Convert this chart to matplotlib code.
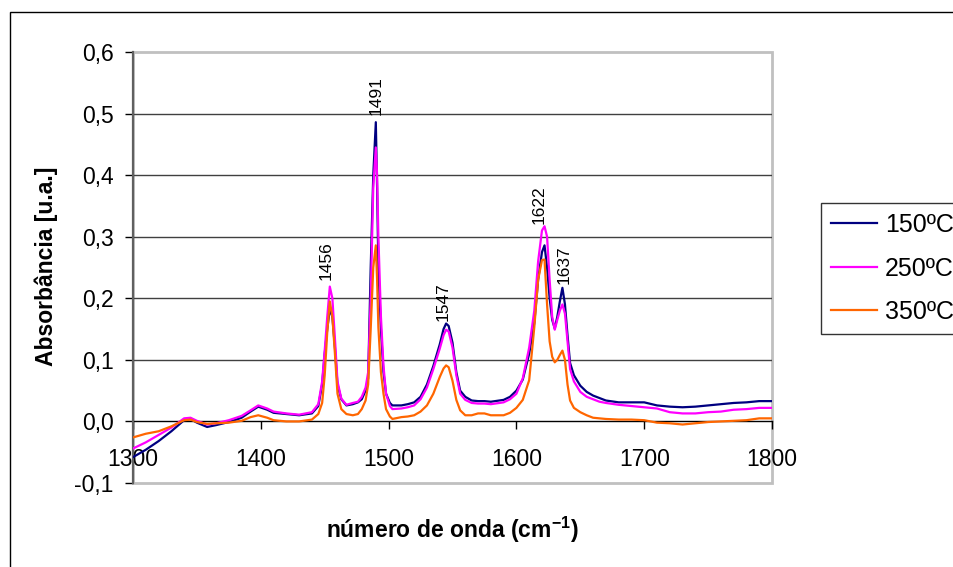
import matplotlib
matplotlib.use("Agg")
import matplotlib.pyplot as plt
from matplotlib.patches import Rectangle
from matplotlib.ticker import FuncFormatter

plt.rcParams['font.family'] = ['Liberation Sans', 'DejaVu Sans']
plt.rcParams['mathtext.fontset'] = 'custom'
plt.rcParams['mathtext.rm'] = 'Liberation Sans'
plt.rcParams['mathtext.bf'] = 'Liberation Sans:bold'

# wavenumber (cm-1) and absorbance
wavenumber = [1300, 1310, 1320, 1330, 1340, 1345, 1350, 1358, 1365, 1375,
              1385, 1392, 1398, 1405, 1410, 1420, 1430, 1440, 1445, 1448,
              1450, 1452, 1454, 1456, 1458, 1460, 1463, 1467, 1472, 1476,
              1479, 1482, 1484, 1486, 1488, 1490, 1491, 1492, 1494, 1496,
              1498, 1501, 1503, 1510, 1515, 1520, 1525, 1530, 1535, 1540,
              1543, 1545, 1547, 1550, 1553, 1556, 1560, 1565, 1570, 1575,
              1580, 1590, 1595, 1600, 1605, 1610, 1614, 1617, 1620, 1622,
              1624, 1626, 1628, 1630, 1632, 1634, 1636, 1638, 1640, 1642,
              1645, 1650, 1655, 1660, 1665, 1670, 1680, 1690, 1700, 1710,
              1720, 1730, 1740, 1750, 1760, 1770, 1780, 1790, 1800]

abs_150 = [-0.058, -0.046, -0.032, -0.016, 0.002, 0.004, -0.002, -0.009, -0.006, -0.001,
           0.006, 0.016, 0.024, 0.019, 0.014, 0.012, 0.010, 0.013, 0.025, 0.060,
           0.110, 0.150, 0.183, 0.170, 0.120, 0.060, 0.036, 0.026, 0.028, 0.031,
           0.036, 0.050, 0.070, 0.250, 0.400, 0.486, 0.380, 0.250, 0.150, 0.080,
           0.045, 0.030, 0.026, 0.026, 0.028, 0.031, 0.040, 0.060, 0.090, 0.125,
           0.150, 0.159, 0.155, 0.128, 0.080, 0.050, 0.040, 0.034, 0.033, 0.033,
           0.032, 0.035, 0.040, 0.050, 0.068, 0.110, 0.160, 0.230, 0.275, 0.286,
           0.250, 0.200, 0.165, 0.151, 0.170, 0.195, 0.217, 0.190, 0.140, 0.095,
           0.075, 0.058, 0.048, 0.042, 0.038, 0.034, 0.031, 0.031, 0.031, 0.026,
           0.024, 0.023, 0.024, 0.026, 0.028, 0.030, 0.031, 0.033, 0.033]

abs_250 = [-0.044, -0.034, -0.022, -0.010, 0.005, 0.006, 0.001, -0.005, -0.003, 0.002,
           0.009, 0.018, 0.026, 0.021, 0.016, 0.013, 0.011, 0.015, 0.028, 0.065,
           0.115, 0.170, 0.219, 0.200, 0.135, 0.065, 0.037, 0.027, 0.030, 0.032,
           0.040, 0.055, 0.080, 0.200, 0.380, 0.445, 0.400, 0.300, 0.170, 0.090,
           0.045, 0.025, 0.020, 0.021, 0.023, 0.026, 0.036, 0.055, 0.085, 0.118,
           0.140, 0.149, 0.146, 0.120, 0.075, 0.045, 0.035, 0.030, 0.029, 0.029,
           0.028, 0.031, 0.036, 0.045, 0.070, 0.120, 0.180, 0.260, 0.310, 0.317,
           0.300, 0.230, 0.170, 0.149, 0.165, 0.180, 0.190, 0.175, 0.130, 0.085,
           0.065, 0.048, 0.040, 0.036, 0.032, 0.030, 0.027, 0.025, 0.023, 0.021,
           0.015, 0.013, 0.013, 0.015, 0.016, 0.019, 0.020, 0.022, 0.022]

abs_350 = [-0.026, -0.020, -0.016, -0.008, 0.002, 0.003, -0.001, -0.004, -0.003, -0.002,
           0.001, 0.007, 0.010, 0.006, 0.002, 0.000, 0.000, 0.003, 0.012, 0.030,
           0.075, 0.145, 0.195, 0.170, 0.110, 0.045, 0.020, 0.012, 0.010, 0.012,
           0.020, 0.034, 0.060, 0.150, 0.250, 0.286, 0.230, 0.153, 0.080, 0.045,
           0.020, 0.008, 0.004, 0.007, 0.008, 0.010, 0.016, 0.026, 0.045, 0.072,
           0.086, 0.091, 0.088, 0.066, 0.035, 0.018, 0.010, 0.010, 0.013, 0.013,
           0.010, 0.010, 0.014, 0.022, 0.035, 0.067, 0.153, 0.230, 0.262, 0.263,
           0.190, 0.130, 0.105, 0.096, 0.100, 0.108, 0.115, 0.100, 0.060, 0.034,
           0.022, 0.015, 0.010, 0.006, 0.005, 0.004, 0.003, 0.003, 0.002, -0.002,
           -0.003, -0.005, -0.003, -0.001, 0.000, 0.001, 0.002, 0.005, 0.005]

series_names = ['150ºC', '250ºC', '350ºC']
series_colors = ['#000080', '#FF00FF', '#FF6600']

peak_labels = ['1456', '1491', '1547', '1622', '1637']
label_x = [1451, 1490, 1543, 1618, 1637]
label_y = [0.229, 0.497, 0.163, 0.320, 0.224]

xticks = [1300, 1400, 1500, 1600, 1700, 1800]
yticks = [-0.1, 0.0, 0.1, 0.2, 0.3, 0.4, 0.5, 0.6]

W, H = 954, 567
fig = plt.figure(figsize=(W / 100, H / 100), dpi=100)
ax = fig.add_axes([133 / W, 1 - 483 / H, (772 - 133) / W, (483 - 52) / H])

# horizontal gridlines inside the plot area
for yv in yticks[1:-1]:
    if yv != 0.0:
        ax.axhline(yv, color='#404040', lw=1.0, zorder=1)

for ys, name, col in zip([abs_150, abs_250, abs_350], series_names, series_colors):
    ax.plot(wavenumber, ys, color=col, lw=1.6, label=name, zorder=3)

for txt, lx, ly in zip(peak_labels, label_x, label_y):
    ax.text(lx, ly, txt, rotation=90, ha='center', va='bottom', fontsize=12.5)

ax.set_xlim(1300, 1800)
ax.set_ylim(-0.1, 0.6)
ax.set_xticks(xticks)
ax.set_yticks(yticks)
ax.yaxis.set_major_formatter(FuncFormatter(lambda v, p: f"{v:.1f}".replace('.', ',')))

ax.spines['top'].set_visible(False)
ax.spines['right'].set_visible(False)
ax.spines['bottom'].set_position(('data', 0))
ax.spines['bottom'].set_color('black')
ax.spines['bottom'].set_linewidth(1.0)
ax.spines['bottom'].set_zorder(2)
ax.spines['left'].set_color('#606060')
ax.spines['left'].set_linewidth(1.6)

ax.tick_params(axis='x', direction='out', length=5.8, width=1, color='black',
               labelsize=16.5, pad=13)
ax.tick_params(axis='y', direction='out', length=5.8, width=1, color='black',
               labelsize=16.5, pad=8)

# light grey frame of the plot area
ax.add_patch(Rectangle((0, 0), 1, 1, transform=ax.transAxes, fill=False,
                       ec='#c0c0c0', lw=2, clip_on=False, zorder=0.5))

fig.text(46 / W, 1 - 266 / H, 'Absorbância [u.a.]', rotation=90, ha='center',
         va='center', fontsize=16.5, fontweight='bold')
fig.text(452 / W, 1 - 530 / H, r'número de onda (cm$^{\mathbf{-1}}$)', ha='center',
         va='center', fontsize=16.5, fontweight='bold')

leg = ax.legend(loc='upper left', bbox_to_anchor=(821 / W, 1 - 203 / H),
                bbox_transform=fig.transFigure, borderaxespad=0, fontsize=18,
                frameon=True, fancybox=False, handlelength=1.85, handletextpad=0.3,
                labelspacing=0.78, borderpad=0.4)
leg.get_frame().set_edgecolor('black')
leg.get_frame().set_linewidth(1.0)

# outer chart border (only top and left edges fall inside the picture)
fig.patches.append(Rectangle((10 / W, -0.2), 2, 1 - 12 / H + 0.2,
                             transform=fig.transFigure, fill=False, ec='black', lw=1))

fig.savefig('out.png', dpi=100)
plt.close('all')
